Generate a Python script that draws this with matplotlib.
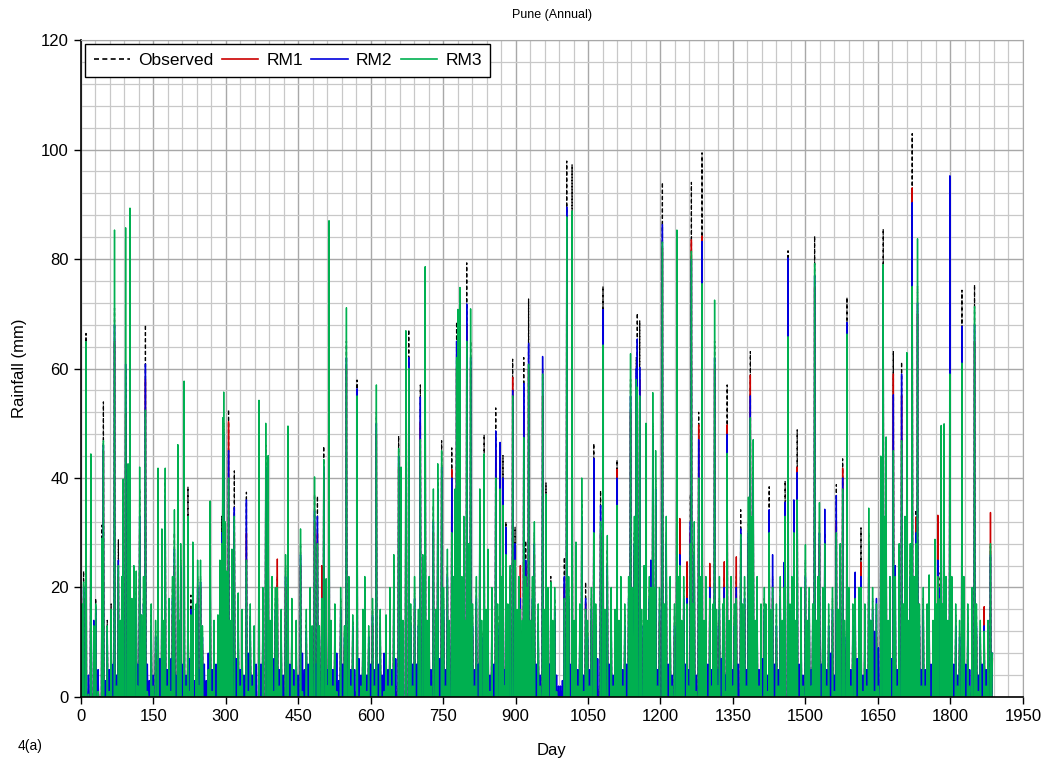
import numpy as np
import matplotlib
matplotlib.use("Agg")
import matplotlib.pyplot as plt
from matplotlib.ticker import MultipleLocator

plt.rcParams['font.family'] = ['Liberation Sans', 'DejaVu Sans']

n_days = 1888

# rainy days (day index) and the rainfall (mm) on them; the other days are dry
event_day = [3, 6, 11, 16, 21, 27, 31, 36, 44, 47,
             51, 55, 59, 63, 67, 70, 74, 78, 82, 85,
             88, 93, 98, 102, 106, 110, 115, 118, 122, 126,
             130, 134, 138, 142, 146, 150, 155, 160, 164, 168,
             172, 175, 179, 183, 187, 190, 194, 197, 201, 204,
             207, 210, 214, 218, 222, 225, 228, 232, 236, 239,
             242, 245, 248, 252, 256, 260, 264, 268, 272, 276,
             280, 284, 288, 292, 294, 296, 299, 302, 306, 309,
             313, 318, 322, 326, 330, 334, 338, 343, 347, 351,
             355, 359, 363, 369, 373, 377, 383, 388, 392, 396,
             400, 403, 407, 411, 415, 419, 424, 429, 433, 437,
             441, 446, 450, 455, 459, 463, 467, 471, 475, 479,
             484, 487, 490, 494, 499, 503, 508, 511, 514, 518,
             522, 526, 530, 534, 538, 542, 546, 550, 555, 559,
             563, 567, 572, 576, 580, 584, 588, 592, 596, 600,
             604, 608, 612, 616, 620, 624, 628, 632, 636, 640,
             644, 648, 652, 658, 663, 667, 673, 679, 683, 687,
             691, 695, 699, 703, 708, 713, 717, 721, 725, 730,
             735, 739, 743, 747, 751, 755, 759, 763, 768, 772,
             775, 778, 781, 785, 789, 793, 796, 799, 803, 807,
             811, 815, 819, 823, 826, 830, 835, 839, 843, 847,
             851, 855, 859, 863, 868, 871, 874, 877, 880, 884,
             889, 894, 899, 903, 907, 910, 914, 917, 921, 924,
             927, 931, 935, 939, 943, 947, 951, 956, 959, 963,
             967, 970, 973, 977, 981, 985, 989, 993, 997, 1001,
             1006, 1010, 1013, 1017, 1021, 1025, 1029, 1033, 1037, 1041,
             1045, 1049, 1053, 1057, 1062, 1066, 1070, 1076, 1081, 1085,
             1090, 1094, 1098, 1102, 1106, 1110, 1114, 1118, 1122, 1126,
             1130, 1134, 1138, 1142, 1146, 1150, 1152, 1157, 1161, 1166,
             1170, 1174, 1177, 1180, 1184, 1187, 1190, 1194, 1198, 1204,
             1208, 1212, 1216, 1220, 1224, 1229, 1234, 1237, 1240, 1244,
             1248, 1252, 1255, 1258, 1262, 1264, 1267, 1270, 1274, 1279,
             1282, 1286, 1290, 1294, 1298, 1302, 1306, 1309, 1312, 1316,
             1319, 1322, 1326, 1329, 1332, 1335, 1338, 1342, 1346, 1350,
             1353, 1357, 1361, 1366, 1370, 1374, 1378, 1382, 1386, 1389,
             1392, 1396, 1400, 1404, 1408, 1412, 1415, 1418, 1421, 1425,
             1428, 1432, 1436, 1440, 1444, 1448, 1452, 1456, 1458, 1464,
             1468, 1472, 1476, 1479, 1483, 1487, 1491, 1495, 1500, 1504,
             1508, 1512, 1515, 1519, 1523, 1526, 1529, 1533, 1536, 1540,
             1544, 1548, 1552, 1556, 1560, 1564, 1568, 1572, 1577, 1581,
             1586, 1590, 1594, 1598, 1603, 1607, 1611, 1615, 1619, 1623,
             1627, 1631, 1635, 1639, 1643, 1647, 1651, 1656, 1661, 1664,
             1667, 1671, 1675, 1678, 1682, 1686, 1690, 1694, 1699, 1703,
             1706, 1710, 1714, 1717, 1721, 1725, 1729, 1732, 1736, 1740,
             1744, 1748, 1752, 1756, 1760, 1764, 1768, 1771, 1774, 1779,
             1781, 1784, 1787, 1791, 1795, 1799, 1803, 1807, 1811, 1815,
             1819, 1824, 1828, 1832, 1836, 1840, 1845, 1850, 1854, 1858,
             1862, 1866, 1870, 1874, 1878, 1883, 1887]

obs_mm = [15, 23, 66.4, 1, 44, 12, 18, 2, 31.4, 53.9,
          0, 14, 2, 17, 1, 71, 3, 28.7, 12, 20,
          38, 60, 40, 55, 15, 22, 20, 1, 38, 12,
          18, 68, 3, 0, 15, 1, 12, 38, 2, 25,
          12, 40, 1, 15, 3, 20, 30, 0, 42, 12,
          25, 2, 50, 1, 38.4, 3, 18.6, 25, 0, 15,
          22, 1, 22, 12, 2, 0, 4, 30, 1, 12,
          2, 14, 22, 33, 45, 50, 30, 20, 52.5, 12,
          25, 41.3, 2, 18, 1, 15, 0, 37.4, 3, 15,
          1, 12, 0, 50, 2, 18, 46, 40, 12, 20,
          3, 18, 22, 1, 14, 0, 24, 46, 2, 16,
          1, 12, 0, 28, 3, 1, 14, 2, 18, 12,
          37, 2, 36.7, 12, 20, 45.8, 20, 1, 75, 12,
          1, 15, 3, 0, 18, 2, 12, 65, 20, 1,
          14, 0, 57.9, 2, 1, 14, 20, 0, 12, 2,
          16, 1, 52, 2, 15, 0, 3, 14, 1, 18,
          1, 24, 2, 47.7, 40, 12, 60, 67.1, 15, 1,
          20, 2, 14, 57, 24, 70, 12, 20, 1, 35,
          14, 40, 2, 46.8, 18, 1, 24, 12, 45.5, 20,
          35, 68.5, 60, 70, 20, 30, 12, 79.3, 25, 65,
          15, 1, 20, 2, 35, 12, 47.9, 14, 25, 0,
          18, 2, 52.8, 15, 40, 20, 44.1, 1, 32, 15,
          22, 61.7, 31, 14, 20, 20, 12, 62, 28.5, 18,
          72.7, 12, 20, 30, 2, 15, 0, 60, 14, 39.1,
          18, 2, 22, 12, 18, 1, 0, 0, 0, 25.5,
          97.9, 20, 2, 97.2, 12, 25, 1, 15, 36, 0,
          21, 12, 1, 18, 46.3, 15, 2, 37.7, 75, 14,
          27, 2, 18, 0, 14, 43.3, 12, 20, 1, 15,
          2, 20, 58, 18, 30, 62, 70.1, 68.7, 14, 22,
          45, 12, 20, 22, 50, 18, 40, 1, 18, 94,
          15, 30, 2, 20, 0, 15, 78, 20, 28, 12,
          20, 2, 20, 1, 37, 94, 15, 28, 0, 52,
          20, 99.4, 12, 20, 2, 22, 1, 15, 65, 14,
          1, 18, 2, 15, 22, 0, 57, 12, 20, 1,
          15, 22, 2, 34.2, 15, 20, 1, 32, 63.1, 30,
          42, 12, 20, 1, 15, 2, 18, 15, 0, 38.4,
          14, 22, 2, 15, 1, 20, 12, 22, 39.5, 81.5,
          15, 20, 32, 12, 48.8, 2, 18, 0, 25, 12,
          18, 1, 15, 84.2, 12, 20, 32, 2, 18, 30,
          1, 15, 2, 18, 0, 38.8, 14, 25, 43.5, 12,
          73, 18, 1, 15, 20, 2, 18, 30.9, 0, 15,
          1, 30, 12, 18, 3, 15, 1, 40, 85.5, 30,
          42, 12, 20, 2, 63.2, 20, 1, 25, 61.2, 15,
          30, 55, 12, 25, 102.9, 20, 34.2, 75, 15, 1,
          18, 1, 15, 20, 2, 12, 25, 15, 28, 22.7,
          40, 15, 42, 20, 12, 90, 20, 2, 15, 0,
          12, 74.3, 20, 2, 15, 1, 18, 75.3, 15, 0,
          12, 2, 14, 1, 12, 27.5, 8]

rm1_mm = [12, 18, 60, 0, 40, 9, 14, 3, 26, 45,
          1, 10, 0, 12, 2, 65, 1, 22, 9, 15,
          30, 52, 30, 45, 11, 16, 15, 0, 30, 9,
          14, 58, 2, 1, 11, 0, 8, 30, 1, 20,
          9, 32, 0, 12, 2, 15, 24, 1, 35, 9,
          22, 1, 48, 0, 20, 2, 15, 22, 1, 12,
          18, 0, 20, 9, 1, 1, 3, 25, 0, 9,
          1, 11, 20, 28, 40, 45, 25, 16, 50.3, 9,
          20, 30, 1, 12, 0, 11, 1, 30, 2, 11,
          0, 9, 1, 40, 1, 12, 40, 33, 9, 15,
          2, 14, 25.2, 0, 11, 1, 20, 42, 1, 13,
          0, 9, 1, 24, 2, 0, 10, 1, 14, 9,
          32, 1, 30, 9, 24, 40, 16, 0, 68, 9,
          0, 12, 2, 1, 14, 1, 9, 60, 16, 0,
          11, 1, 50, 1, 0, 11, 16, 1, 9, 1,
          13, 0, 48, 1, 11, 1, 2, 11, 0, 14,
          0, 20, 1, 42, 35, 9, 55, 58, 11, 0,
          16, 1, 11, 50, 20, 65, 9, 16, 0, 30,
          11, 35, 1, 40, 14, 0, 20, 9, 41.6, 16,
          30, 60, 55, 65, 16, 25, 9, 68, 20, 60,
          11, 0, 16, 1, 30, 9, 40, 11, 20, 1,
          14, 1, 45, 11, 35, 16, 38, 0, 28, 11,
          18, 58.4, 27, 11, 16, 24, 9, 52, 24, 14,
          60, 9, 16, 26, 1, 11, 1, 55, 11, 33,
          14, 1, 18, 9, 14, 0, 1, 0, 1, 20,
          85, 16, 1, 85, 9, 20, 0, 11, 30, 1,
          17, 9, 0, 14, 38, 11, 1, 30, 68, 11,
          22, 1, 14, 1, 11, 41.6, 9, 16, 0, 11,
          1, 16, 52, 14, 26, 55, 60, 58, 11, 18,
          40, 9, 16, 18, 45, 14, 35, 0, 14, 82,
          11, 26, 1, 16, 1, 11, 70, 16, 32.6, 9,
          16, 1, 24.7, 0, 30, 83.5, 11, 24, 1, 49.7,
          16, 84.2, 9, 16, 1, 24.4, 0, 11, 60, 11,
          0, 14, 1, 11, 24.7, 1, 49.7, 9, 16, 0,
          11, 25.6, 1, 28, 11, 16, 0, 28, 58.8, 26,
          38, 9, 16, 0, 11, 1, 14, 11, 1, 30,
          11, 18, 1, 11, 0, 16, 9, 18, 32, 70,
          11, 16, 28, 9, 42, 1, 14, 1, 20, 9,
          14, 0, 11, 75, 9, 16, 28, 1, 14, 26,
          0, 11, 1, 14, 1, 32, 11, 20, 41.8, 9,
          65, 14, 0, 11, 16, 1, 14, 24.6, 1, 11,
          0, 26, 9, 14, 2, 11, 0, 35, 75, 26,
          38, 9, 16, 1, 59, 16, 0, 20, 55, 11,
          26, 50, 9, 20, 93, 16, 32.9, 70, 11, 0,
          14, 0, 11, 16, 1, 9, 20, 11, 33.2, 18,
          35, 11, 38, 16, 9, 88, 16, 1, 11, 1,
          9, 62, 16, 1, 11, 0, 14, 65, 11, 1,
          9, 1, 16.5, 0, 9, 33.7, 7]

rm2_mm = [14, 20, 64.5, 4, 42, 14, 16, 5, 28, 46,
          3, 12, 5, 15, 6, 68, 4, 25, 11, 18,
          33, 60.8, 36, 50, 14, 20, 18, 6, 33, 13,
          17, 60.8, 6, 3, 13, 4, 11, 33, 7, 24,
          11, 36, 5, 14, 7, 18, 27, 4, 38, 13,
          24, 6, 50, 4, 22, 7, 16, 24, 3, 14,
          20, 5, 21, 11, 6, 3, 8, 28, 5, 11,
          6, 13, 21, 30, 42, 48, 28, 19, 45, 11,
          22, 34.6, 7, 15, 5, 13, 4, 36, 8, 14,
          4, 11, 6, 45, 6, 15, 42, 36, 13, 17,
          7, 16, 18, 5, 13, 4, 22, 44, 6, 15,
          5, 11, 4, 26, 8, 5, 12, 6, 16, 11,
          34, 6, 33, 11, 18, 42, 18, 5, 70, 11,
          5, 14, 8, 3, 16, 6, 11, 62, 18, 5,
          13, 5, 56.3, 7, 4, 13, 18, 4, 11, 6,
          15, 5, 50, 6, 13, 4, 8, 13, 5, 16,
          5, 22, 7, 44, 37, 11, 58, 62, 13, 6,
          18, 6, 13, 54.8, 22, 68, 11, 18, 5, 32,
          13, 38, 7, 42, 16, 5, 22, 11, 40, 18,
          32, 65, 58, 68, 18, 28, 11, 71.8, 22, 62,
          13, 5, 18, 6, 33, 11, 42, 13, 22, 4,
          16, 6, 48.6, 13, 46.5, 18, 40, 5, 31, 13,
          20, 56, 28, 13, 18, 18, 11, 57.3, 25, 16,
          64.6, 11, 18, 28, 6, 13, 4, 62.2, 13, 35,
          16, 6, 20, 11, 16, 4, 2, 2, 3, 22,
          89.5, 18, 6, 87, 11, 22, 5, 13, 33, 4,
          18, 11, 5, 16, 43.6, 13, 7, 35, 70.8, 13,
          24, 6, 16, 4, 13, 40, 11, 18, 5, 13,
          6, 18, 55, 16, 28, 60, 65.4, 60.2, 13, 20,
          42, 11, 18, 25, 48, 16, 38, 5, 16, 86.3,
          13, 28, 6, 18, 4, 13, 72, 18, 26, 11,
          18, 6, 18, 5, 32, 80, 13, 26, 4, 47,
          18, 83.2, 11, 18, 6, 20, 5, 13, 62, 13,
          5, 16, 7, 13, 20, 4, 48, 11, 18, 5,
          13, 20, 6, 30.7, 13, 18, 5, 30, 55, 28,
          40, 11, 18, 5, 13, 7, 16, 13, 4, 34.2,
          13, 26, 6, 13, 5, 18, 11, 24.6, 35.6, 80.2,
          13, 18, 36, 11, 41, 6, 16, 4, 22, 11,
          16, 5, 13, 77, 11, 18, 30, 6, 16, 34.3,
          5, 13, 8, 16, 4, 36.8, 13, 22, 40, 11,
          68.4, 16, 5, 13, 22.8, 7, 16, 22, 4, 13,
          5, 28, 14, 16, 12, 18, 9, 38, 78, 28,
          40, 11, 18, 7, 55.2, 24, 5, 22, 59, 13,
          28, 52, 11, 22, 90.3, 18, 30, 72, 13, 5,
          16, 5, 13, 18, 6, 11, 22, 13, 25, 20,
          38, 13, 40, 18, 11, 95.2, 18, 6, 13, 4,
          11, 67.7, 18, 6, 13, 5, 16, 68, 13, 4,
          11, 6, 13, 5, 11, 26, 8]

rm3_mm = [17, 21, 64.9, 0.5, 44.4, 13, 17, 1, 29, 46.8,
          0, 13, 1, 16, 0, 85.3, 2, 24, 14, 22,
          39.8, 85.7, 42.6, 89.3, 18, 24, 23, 2, 42, 15,
          22, 52.4, 1, 0, 17, 2, 14, 41.8, 0, 30.7,
          14, 41.8, 2, 18, 1, 22, 34.2, 0, 46.1, 14,
          28, 0, 57.7, 2, 33, 1, 15, 28.3, 0, 17,
          25, 2, 25, 13, 0, 0, 5, 35.8, 1, 14,
          0, 15, 25, 28, 51, 55.7, 32, 23, 40, 14,
          27, 33, 0, 19, 2, 16, 0, 25, 1, 17,
          2, 13, 0, 54.2, 0, 20, 50, 44.1, 14, 22,
          1, 20, 20, 2, 16, 0, 26, 49.5, 0, 18,
          2, 14, 0, 30.7, 1, 0, 16, 0, 20, 13,
          40.2, 0, 28, 13, 18, 43.4, 21.6, 2, 87, 14,
          2, 17, 1, 0, 20, 0, 13, 71.1, 22, 2,
          15, 0, 55, 0, 2, 16, 22, 1, 13, 0,
          18, 2, 57, 0, 16, 0, 1, 15, 2, 20,
          2, 26, 0, 45.4, 42, 14, 66.9, 60, 17, 2,
          22, 0, 16, 47, 26, 78.6, 14, 22, 2, 38,
          16, 42.6, 0, 45, 20, 2, 27, 14, 30, 22,
          38, 62, 70.8, 74.8, 22, 33, 14, 65, 28, 70.9,
          17, 2, 22, 0, 38, 14, 44.4, 16, 27, 1,
          20, 0, 40, 17, 38, 22, 35, 2, 26, 17,
          24, 55, 25, 16, 22, 16, 14, 47.4, 22, 20,
          60.8, 14, 22, 32, 0, 17, 2, 59, 16, 37,
          20, 0, 21, 14, 20, 1, 0, 0, 0, 18,
          87.7, 22, 0, 88.8, 14, 28.3, 2, 17, 40, 1,
          16, 14, 2, 20, 30, 17, 0, 32, 64.3, 16,
          29.5, 0, 20, 2, 16, 35, 14, 22, 2, 17,
          0, 22, 62.7, 20, 33, 58, 56.6, 55, 16, 24,
          50, 14, 22, 20, 55.6, 20, 45, 2, 20, 83.1,
          17, 33, 0, 22, 2, 17, 85.3, 22, 24, 14,
          22, 0, 17, 2, 28, 81.4, 17, 32, 1, 40,
          22, 75.5, 14, 22, 0, 18, 2, 17, 72.5, 16,
          2, 22, 0, 17, 18, 1, 44.5, 14, 22, 2,
          17, 18, 0, 29.7, 17, 22, 2, 36.5, 51, 33,
          47, 14, 22, 2, 17, 0, 20, 17, 1, 30,
          16, 20, 0, 17, 2, 22, 14, 20, 33, 65.8,
          17, 22, 30, 14, 36, 0, 20, 2, 27.8, 14,
          20, 2, 17, 79.2, 14, 22, 35.5, 0, 20, 28,
          2, 17, 0, 20, 1, 30, 16, 28, 38, 14,
          66.3, 20, 2, 17, 18, 0, 20, 20, 1, 17,
          2, 34.5, 14, 20, 1, 17, 2, 44, 79, 33,
          47.5, 14, 22, 0, 45, 22, 2, 28, 46.8, 17,
          33, 62.9, 14, 28, 75, 22, 28, 83.7, 17, 2,
          20, 2, 17, 22.3, 0, 14, 28.8, 17, 22, 18,
          49.6, 17, 49.9, 22, 14, 59, 22, 0, 17, 2,
          14, 61, 22, 0, 17, 2, 20, 71.3, 17, 1,
          14, 0, 12, 2, 14, 28, 8]

x_ticks = list(range(0, 1951, 150))
y_ticks = list(range(0, 121, 20))

days = np.arange(n_days)
series = {}
for name, vals in [('Observed', obs_mm), ('RM1', rm1_mm), ('RM2', rm2_mm), ('RM3', rm3_mm)]:
    s = np.zeros(n_days)
    s[event_day] = vals
    series[name] = s

fig = plt.figure(figsize=(10.48, 7.67), dpi=100)
ax = fig.add_axes([0.077, 0.0913, 0.899, 0.8565])

ax.plot(days, series['Observed'], color='black', lw=0.9, ls=(0, (3, 2)), label='Observed')
ax.plot(days, series['RM1'], color='#cc0000', lw=1.0, label='RM1')
ax.plot(days, series['RM2'], color='#0000dd', lw=1.0, label='RM2')
ax.plot(days, series['RM3'], color='#00b050', lw=1.0, label='RM3')

ax.set_xlim(0, 1950)
ax.set_ylim(0, 120)
ax.set_xticks(x_ticks)
ax.set_yticks(y_ticks)
ax.xaxis.set_minor_locator(MultipleLocator(30))
ax.yaxis.set_minor_locator(MultipleLocator(4))
ax.grid(which='minor', color='#c8c8c8', lw=0.9)
ax.grid(which='major', color='#a8a8a8', lw=1.0)
ax.set_axisbelow(True)
ax.tick_params(which='minor', length=0)
ax.tick_params(which='major', length=5, width=1, direction='out', labelsize=12)
ax.spines['top'].set_color('#a8a8a8')
ax.spines['right'].set_color('#a8a8a8')
ax.spines['left'].set_linewidth(1.2)
ax.spines['bottom'].set_linewidth(1.2)

ax.set_title('Pune (Annual)', fontsize=9, pad=16)
ax.set_xlabel('Day', fontsize=12, labelpad=14)
ax.set_ylabel('Rainfall (mm)', fontsize=12, labelpad=10)
fig.text(0.017, 0.022, '4(a)', fontsize=10)

leg = ax.legend(loc='upper left', ncol=4, fontsize=12.5, frameon=True, fancybox=False,
                edgecolor='black', handlelength=2.1, handletextpad=0.45, columnspacing=0.5,
                borderaxespad=0.25, borderpad=0.5)
leg.get_frame().set_linewidth(1.0)
leg.get_frame().set_alpha(1)
for line in leg.get_lines():
    line.set_linewidth(1.2)

fig.savefig('out.png', dpi=100)
